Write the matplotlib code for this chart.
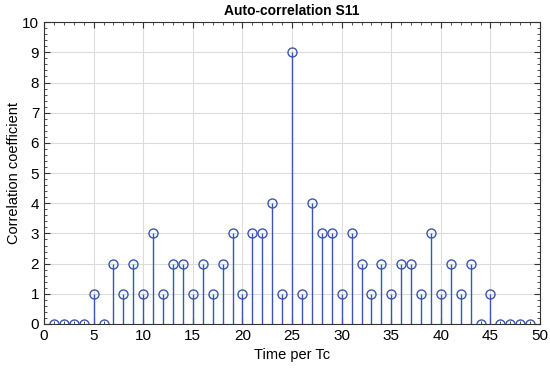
import numpy as np
import matplotlib
matplotlib.use("Agg")
import matplotlib.pyplot as plt
from matplotlib.ticker import MultipleLocator

plt.rcParams['font.family'] = ['Liberation Sans', 'DejaVu Sans']

# Data
lags = np.arange(1, 50)
corr = [0, 0, 0, 0, 1, 0, 2, 1, 2, 1,
        3, 1, 2, 2, 1, 2, 1, 2, 3, 1,
        3, 3, 4, 1, 9, 1, 4, 3, 3, 1,
        3, 2, 1, 2, 1, 2, 2, 1, 3, 1,
        2, 1, 2, 0, 1, 0, 0, 0, 0]

color = '#3a56b2'

fig = plt.figure(figsize=(5.5, 3.69), dpi=100)
ax = fig.add_axes([0.08, 0.122, 0.902, 0.818])

markerline, stemlines, baseline = ax.stem(lags, corr, basefmt=' ')
plt.setp(stemlines, color=color, linewidth=1.0)
plt.setp(markerline, marker='o', markersize=6.5, markerfacecolor='none',
         markeredgecolor=color, markeredgewidth=1.0)

ax.set_xlim(0, 50)
ax.set_ylim(0, 10)
ax.xaxis.set_major_locator(MultipleLocator(5))
ax.xaxis.set_minor_locator(MultipleLocator(1))
ax.yaxis.set_major_locator(MultipleLocator(1))
ax.yaxis.set_minor_locator(MultipleLocator(0.2))
ax.grid(True, which='major', color='#dcdcdc', linewidth=0.8)
ax.set_axisbelow(True)
ax.tick_params(which='both', direction='in', top=True, right=True,
               labelsize=11, color='#333333')
ax.tick_params(which='major', length=4)
ax.tick_params(which='minor', length=2)
for s in ax.spines.values():
    s.set_color('#333333')
    s.set_linewidth(0.8)

ax.set_xlabel('Time per Tc', fontsize=10.5, labelpad=4)
ax.set_ylabel('Correlation coefficient', fontsize=10.5, labelpad=1)
ax.set_title('Auto-correlation S11', fontsize=10, fontweight='bold', pad=5)

fig.savefig('out.png', dpi=100)
